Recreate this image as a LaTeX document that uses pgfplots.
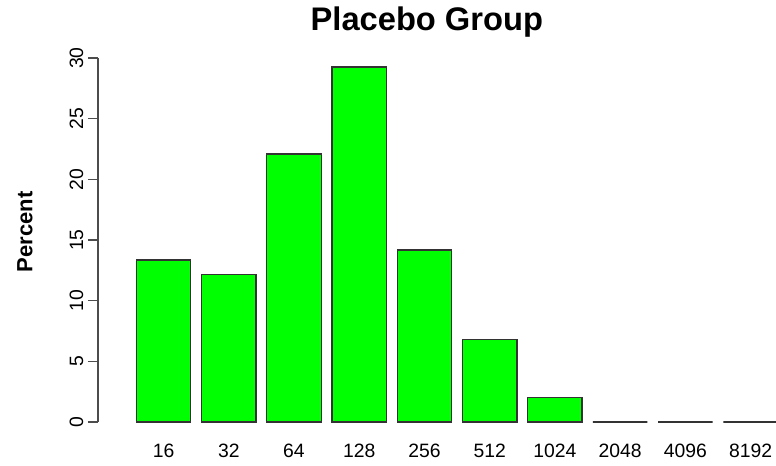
\documentclass[border=0pt]{standalone}
\usepackage{fontspec}
\setmainfont{Liberation Sans}
\usepackage{pgfplots}
\pgfplotsset{compat=1.18}
\definecolor{rgreen}{RGB}{0,255,0}
\begin{document}
\begin{tikzpicture}
\begin{axis}[
  name=ax, at={(0,0)}, anchor=south west,
  scale only axis, width=508.5pt, height=273pt,
  xmin=-1.005, xmax=9.39, ymin=0, ymax=30,
  clip=false,
  axis y line*=left, axis x line*=bottom,
  x axis line style={draw=none},
  y axis line style={black!70, line width=1pt},
  tick align=outside, major tick length=7.5pt,
  xtick style={draw=none},
  ytick style={black!70, line width=1pt},
  xtick={0,...,9},
  xticklabels={16,32,64,128,256,512,1024,2048,4096,8192},
  ytick={0,5,...,30},
  /pgf/number format/assume math mode=true,
  tick label style={font=\fontsize{14.5}{17}\selectfont},
  xticklabel style={anchor=north, yshift=-5.7pt},
  yticklabel style={rotate=90, anchor=south},
  title={Placebo Group},
  title style={at={(axis description cs:0.485,1.077)}, anchor=center, yshift=0pt, font=\fontsize{24.5}{29}\selectfont\bfseries},
  ylabel={Percent},
  ylabel style={at={(axis description cs:-0.1077,0.522)}, anchor=center, rotate=0, font=\fontsize{16.5}{19}\selectfont\bfseries},
]
\addplot[ybar, bar width=0.8333, fill=rgreen, draw=black!80, line width=1pt] coordinates {
  (0,13.35) (1,12.15) (2,22.1) (3,29.27) (4,14.18) (5,6.8) (6,2.0) (7,0) (8,0) (9,0)
};
\end{axis}
\pgfresetboundingbox
\path[use as bounding box] (-73.5pt,-32.25pt) rectangle (508.5pt,316.5pt);
\end{tikzpicture}
\end{document}
